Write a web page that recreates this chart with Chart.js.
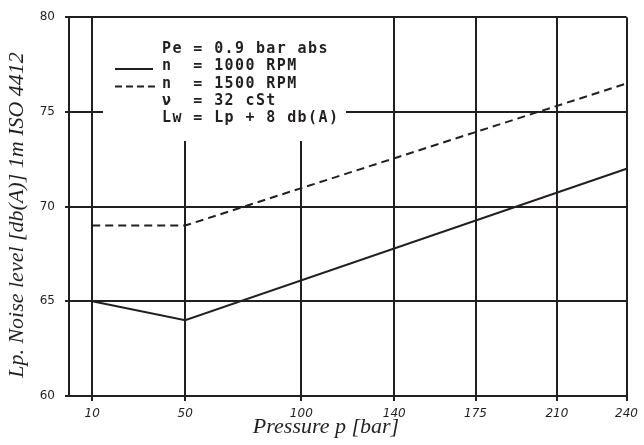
<!DOCTYPE html>
<html>
<head>
<meta charset="utf-8">
<script src="https://cdn.jsdelivr.net/npm/chart.js@4"></script>
<style>
  body { margin: 0; background: #fff; }
</style>
</head>
<body>
<canvas id="myChart" width="644" height="445"></canvas>
<script>
// DATA
const pressure1000 = [10, 50, 240];
const noise1000 = [65, 64, 72];
const pressure1500 = [10, 50, 240];
const noise1500 = [69, 69, 76.5];
const xTicks = [10, 50, 100, 140, 175, 210, 240];
const yTicks = [60, 65, 70, 75, 80];
const notes = ["Pe = 0.9 bar abs", "n  = 1000 RPM", "n  = 1500 RPM", "ν  = 32 cSt", "Lw = Lp + 8 db(A)"];
const xTitle = "Pressure p [bar]";
const yTitle = "Lp. Noise level [db(A)] 1m ISO 4412";

const ink = "#231f20";

// box with operating conditions + axis titles
const notesBox = {
  id: "notesBox",
  beforeDatasetsDraw(chart) {
    const ctx = chart.ctx;
    // grid lines are snapped to whole pixels, so snap the box too
    const top = Math.round(chart.scales.y.getPixelForValue(80)) + 1;
    ctx.save();
    ctx.fillStyle = "#fff";
    ctx.fillRect(103, top, 243, 141 - top);

    ctx.fillStyle = ink;
    ctx.font = "bold 15px 'DejaVu Sans Mono'";
    ctx.letterSpacing = "1.4px";
    ctx.textBaseline = "alphabetic";
    notes.forEach((t, i) => ctx.fillText(t, 162, 53 + i * 17.3));

    ctx.strokeStyle = ink;
    ctx.lineWidth = 2;
    ctx.beginPath();
    ctx.moveTo(115, 69);
    ctx.lineTo(153, 69);
    ctx.stroke();
    ctx.setLineDash([7, 4]);
    ctx.beginPath();
    ctx.moveTo(115, 86.5);
    ctx.lineTo(155, 86.5);
    ctx.stroke();
    ctx.restore();
  },
  afterDraw(chart) {
    const ctx = chart.ctx;
    ctx.save();
    ctx.fillStyle = ink;
    ctx.font = "italic 22px 'Liberation Serif'";
    ctx.textAlign = "center";
    ctx.textBaseline = "alphabetic";
    ctx.fillText(xTitle, 326, 433);
    ctx.translate(23, 215);
    ctx.rotate(-Math.PI / 2);
    ctx.fillText(yTitle, 0, 0);
    ctx.restore();
  },
};

const ctx = document.getElementById("myChart").getContext("2d");
const myChart = new Chart(ctx, {
  type: "line",
  data: {
    datasets: [
      {
        label: "n = 1000 RPM",
        data: pressure1000.map((p, i) => ({ x: p, y: noise1000[i] })),
        borderColor: ink,
        borderWidth: 2,
        pointRadius: 0,
        tension: 0,
      },
      {
        label: "n = 1500 RPM",
        data: pressure1500.map((p, i) => ({ x: p, y: noise1500[i] })),
        borderColor: ink,
        borderWidth: 2,
        borderDash: [8, 5],
        pointRadius: 0,
        tension: 0,
      },
    ],
  },
  options: {
    responsive: false,
    animation: false,
    layout: { padding: { top: 12, right: 10, left: 0, bottom: 0 } },
    plugins: {
      legend: { display: false },
      tooltip: { enabled: false },
    },
    scales: {
      x: {
        type: "linear",
        min: 0,
        max: 240,
        afterBuildTicks: (scale) => {
          scale.ticks = xTicks.map((v) => ({ value: v }));
        },
        afterFit: (scale) => {
          scale.height = 49;
        },
        grid: { color: ink, lineWidth: 2, tickLength: 5 },
        border: { display: true, color: ink, width: 2 },
        ticks: {
          color: ink,
          padding: 6,
          maxRotation: 0,
          font: { family: "DejaVu Sans", size: 12, style: "italic" },
        },
      },
      y: {
        min: 60,
        max: 80,
        afterBuildTicks: (scale) => {
          scale.ticks = yTicks.map((v) => ({ value: v }));
        },
        afterFit: (scale) => {
          scale.width = 69;
        },
        grid: { color: ink, lineWidth: 2, tickLength: 4 },
        border: { display: true, color: ink, width: 2 },
        ticks: {
          color: ink,
          padding: 10,
          font: { family: "DejaVu Sans", size: 12 },
        },
      },
    },
  },
  plugins: [notesBox],
});
</script>
</body>
</html>
